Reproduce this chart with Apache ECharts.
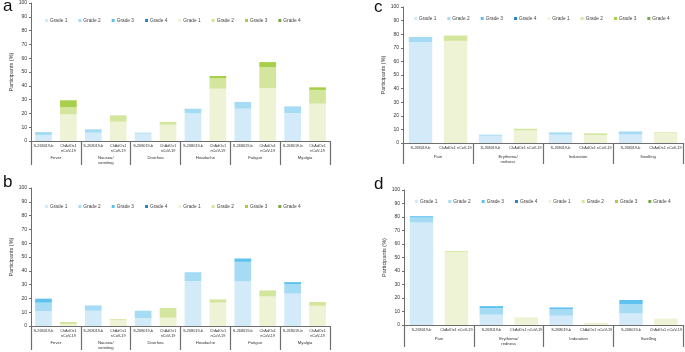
<!DOCTYPE html>
<html><head><meta charset="utf-8">
<script src="https://cdn.jsdelivr.net/npm/echarts@6/dist/echarts.min.js"></script>
<style>html,body{margin:0;padding:0;background:#fff}#c{width:685px;height:352px}</style>
</head><body><div id="c"></div>
<script>
// ---- data ----
const systemicCats = ['Fever', 'Nausea/\nvomiting', 'Diarrhea', 'Headache', 'Fatigue', 'Myalgia'];
const localCats = ['Pain', 'Erythema/\nredness', 'Induration', 'Swelling'];
const vaccineShort = ['S-268019-b', 'ChAdOx1\nnCoV-19'];
const vaccineLong = ['S-268019-b', 'ChAdOx1 nCoV-19'];
const yTicks = [0, 10, 20, 30, 40, 50, 60, 70, 80, 90, 100];
const gradeNames = ['Grade 1', 'Grade 2', 'Grade 3', 'Grade 4'];

// panel a: systemic, dose 1
const aS1 = [4.3, 6.0, 5.3, 20.0, 23.4, 20.3];
const aS2 = [2.2, 2.5, 0.7, 3.4, 4.9, 4.8];
const aS3 = [0, 0, 0, 0, 0, 0];
const aS4 = [0, 0, 0, 0, 0, 0];
const aC1 = [19.3, 14.0, 11.8, 37.9, 38.4, 27.1];
const aC2 = [5.3, 4.6, 2.0, 7.5, 15.2, 9.9];
const aC3 = [4.9, 0, 0, 1.7, 3.6, 1.9];
const aC4 = [0, 0, 0, 0, 0, 0];
// panel b: systemic, dose 2
const bS1 = [10.8, 11.1, 5.8, 32.5, 32.3, 23.4];
const bS2 = [6.1, 3.8, 5.3, 6.5, 14.2, 7.0];
const bS3 = [2.9, 0, 0, 0, 2.4, 1.4];
const bS4 = [0, 0, 0, 0, 0, 0];
const bC1 = [1.5, 4.5, 6.0, 16.9, 21.4, 14.7];
const bC2 = [1.4, 0.6, 7.0, 2.4, 4.4, 2.7];
const bC3 = [0, 0, 0, 0, 0, 0];
const bC4 = [0, 0, 0, 0, 0, 0];
// panel c: local, dose 1
const cS1 = [74.1, 5.3, 6.1, 6.3];
const cS2 = [3.9, 0.8, 1.7, 2.2];
const cS3 = [0, 0, 0, 0];
const cS4 = [0, 0, 0, 0];
const cC1 = [75.1, 9.3, 5.9, 7.3];
const cC2 = [3.9, 1.2, 1.2, 0.5];
const cC3 = [0, 0, 0, 0];
const cC4 = [0, 0, 0, 0];
// panel d: local, dose 2
const dS1 = [75.9, 7.6, 6.9, 8.6];
const dS2 = [3.7, 4.9, 4.9, 6.9];
const dS3 = [1.0, 1.5, 1.2, 3.0];
const dS4 = [0, 0, 0, 0];
const dC1 = [53.9, 5.7, 1.7, 4.7];
const dC2 = [0.8, 0, 0, 0];
const dC3 = [0, 0, 0, 0];
const dC4 = [0, 0, 0, 0];

const blue = ['#d3ebf8', '#a6dbf4', '#5fc2ee', '#2a86c8'];
const green = ['#eef3d6', '#d4e59d', '#a8cf4c', '#78a844'];

const FONT = 'Liberation Sans';
const axisGray = '#6e6e6e';

const panels = [
  {letter: 'a', cats: systemicCats, vac: vaccineShort, S: [aS1, aS2, aS3, aS4], C: [aC1, aC2, aC3, aC4],
   grid: {left: 31, top: 3, width: 299, height: 138}, legend: {left: 40, top: 13}, gap: 11, tick: 24, grpMargin: 14, letterPos: [3, -2]},
  {letter: 'b', cats: systemicCats, vac: vaccineShort, S: [bS1, bS2, bS3, bS4], C: [bC1, bC2, bC3, bC4],
   grid: {left: 31, top: 188, width: 299, height: 138}, legend: {left: 40, top: 199}, gap: 11, tick: 24, grpMargin: 14, letterPos: [3, 174]},
  {letter: 'c', cats: localCats, vac: vaccineLong, S: [cS1, cS2, cS3, cS4], C: [cC1, cC2, cC3, cC4],
   grid: {left: 403, top: 7, width: 280, height: 136}, legend: {left: 409, top: 11}, gap: 11, tick: 21, grpMargin: 11, letterPos: [374, -1]},
  {letter: 'd', cats: localCats, vac: vaccineLong, S: [dS1, dS2, dS3, dS4], C: [dC1, dC2, dC3, dC4],
   grid: {left: 404, top: 190, width: 280, height: 135}, legend: {left: 410, top: 194}, gap: 11, tick: 22, grpMargin: 11, letterPos: [374, 176]}
];

const option = {animation: false, grid: [], xAxis: [], yAxis: [], series: [], legend: [], graphic: []};

panels.forEach((p, i) => {
  option.grid.push(Object.assign({containLabel: false}, p.grid));
  const sub = [];
  p.cats.forEach((c, k) => { sub.push('S|' + k); sub.push('C|' + k); });
  option.xAxis.push({
    type: 'category', gridIndex: i, data: sub,
    axisLine: {show: true, lineStyle: {color: axisGray, width: 1}},
    axisTick: {show: false},
    axisLabel: {interval: 0, margin: 3, fontSize: 3.8, lineHeight: 4.6, color: '#333', fontFamily: FONT,
      formatter: v => v.startsWith('S') ? p.vac[0] : p.vac[1]}
  });
  option.xAxis.push({
    type: 'category', gridIndex: i, data: p.cats, position: 'bottom',
    axisLine: {show: false},
    axisTick: {show: true, interval: 0, length: p.tick, lineStyle: {color: axisGray, width: 1.2}},
    axisLabel: {interval: 0, margin: p.grpMargin, fontSize: 4.2, lineHeight: 5, color: '#333', fontFamily: FONT}
  });
  option.yAxis.push({
    type: 'value', gridIndex: i, min: yTicks[0], max: yTicks[yTicks.length - 1], interval: 10,
    name: 'Participants (%)', nameLocation: 'middle', nameGap: 17, nameRotate: 90,
    nameTextStyle: {fontSize: 5.5, color: '#333', fontFamily: FONT},
    axisLine: {show: true, lineStyle: {color: axisGray, width: 1}},
    axisTick: {show: true, length: 2, lineStyle: {color: axisGray}},
    splitLine: {show: false},
    axisLabel: {fontSize: 5, margin: 4, color: '#333', fontFamily: FONT}
  });
  ['S', 'C'].forEach(v => {
    const arrs = p[v];
    const cols = v === 'S' ? blue : green;
    arrs.forEach((arr, g) => {
      const data = [];
      arr.forEach(val => {
        if (v === 'S') { data.push(val); data.push('-'); }
        else { data.push('-'); data.push(val); }
      });
      option.series.push({
        type: 'bar', name: v + (g + 1), xAxisIndex: 2 * i, yAxisIndex: i, stack: 'p' + i,
        barCategoryGap: '33%', data: data,
        itemStyle: {color: cols[g]}
      });
    });
  });
  option.legend.push({
    data: ['S1', 'S2', 'S3', 'S4', 'C1', 'C2', 'C3', 'C4'],
    left: p.legend.left, top: p.legend.top, itemWidth: 3, itemHeight: 3, itemGap: p.gap,
    icon: 'rect', selectedMode: false, orient: 'horizontal', width: 300,
    formatter: n => gradeNames[+n[1] - 1],
    textStyle: {fontSize: 4.8, color: '#444', fontFamily: FONT, padding: [0, 0, 0, -3]}
  });
  option.graphic.push({type: 'text', left: p.letterPos[0], top: p.letterPos[1],
    style: {text: p.letter, fontSize: 17, fontFamily: FONT, fill: '#111'}});
});

const chart = echarts.init(document.getElementById('c'), null, {renderer: 'canvas'});
chart.setOption(option);
</script></body></html>
